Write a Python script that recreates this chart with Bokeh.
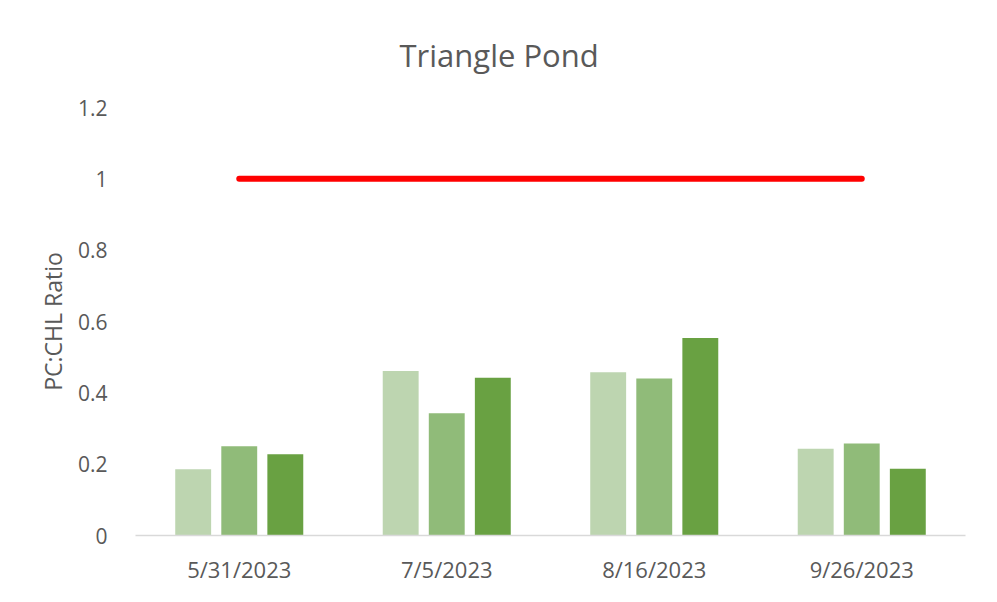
from bokeh.plotting import figure
from bokeh.models import FactorRange, Range1d, ColumnDataSource, FixedTicker, CustomJSTickFormatter, Title
from bokeh.transform import dodge
from bokeh.embed import file_html
from bokeh.resources import INLINE

dates = ["5/31/2023", "7/5/2023", "8/16/2023", "9/26/2023"]
series_a = [0.186, 0.461, 0.458, 0.243]
series_b = [0.250, 0.343, 0.440, 0.258]
series_c = [0.228, 0.442, 0.554, 0.187]
threshold = 1.0
y_ticks = [0, 0.2, 0.4, 0.6, 0.8, 1.0, 1.2]

colors = ["#BDD5B0", "#90BB79", "#69A142"]

src = ColumnDataSource(dict(date=dates, a=series_a, b=series_b, c=series_c))

W, H = 981, 586
p = figure(width=W, height=H, output_backend="svg", toolbar_location=None,
           x_range=FactorRange(*dates, range_padding=0, factor_padding=0),
           y_range=Range1d(0, 1.2),
           min_border_left=135, min_border_right=16,
           min_border_top=107, min_border_bottom=50)

bw = 0.173
off = 0.222
for key, d, col in zip(["a", "b", "c"], [-off, 0, off], colors):
    p.vbar(x=dodge("date", d, range=p.x_range), top=key, width=bw, source=src,
           fill_color=col, line_color=None)

p.line(x=[dates[0], dates[-1]], y=[threshold, threshold], line_color="#FF0000", line_width=6, line_cap="round")

p.xgrid.visible = False
p.ygrid.visible = False
p.outline_line_color = None

p.yaxis.ticker = FixedTicker(ticks=y_ticks)
p.yaxis.formatter = CustomJSTickFormatter(code="return tick.toFixed(1).replace(/\\.0$/, '');")
p.yaxis.axis_line_color = None
p.yaxis.major_tick_line_color = None
p.yaxis.minor_tick_line_color = None
p.yaxis.major_label_text_font = "Open Sans"
p.yaxis.major_label_text_font_size = "21px"
p.yaxis.major_label_text_color = "#595959"
p.yaxis.major_label_standoff = 22
p.yaxis.axis_label = "PC:CHL Ratio"
p.yaxis.axis_label_text_font = "Open Sans"
p.yaxis.axis_label_text_font_size = "23px"
p.yaxis.axis_label_text_font_style = "normal"
p.yaxis.axis_label_text_color = "#595959"
p.yaxis.axis_label_standoff = 6

p.xaxis.axis_line_color = "#D9D9D9"
p.xaxis.axis_line_width = 1.5
p.xaxis.major_tick_line_color = None
p.xaxis.minor_tick_line_color = None
p.xaxis.major_label_text_font = "Open Sans"
p.xaxis.major_label_text_font_size = "22px"
p.xaxis.major_label_text_color = "#595959"
p.xaxis.major_label_standoff = 12

t = Title(text="Triangle Pond", align="left", offset=264, standoff=63,
          text_font="Open Sans", text_font_size="31px", text_font_style="normal",
          text_color="#595959")
p.add_layout(t, "above")

p.border_fill_color = "white"

open("out.html", "w").write(file_html(p, INLINE))
